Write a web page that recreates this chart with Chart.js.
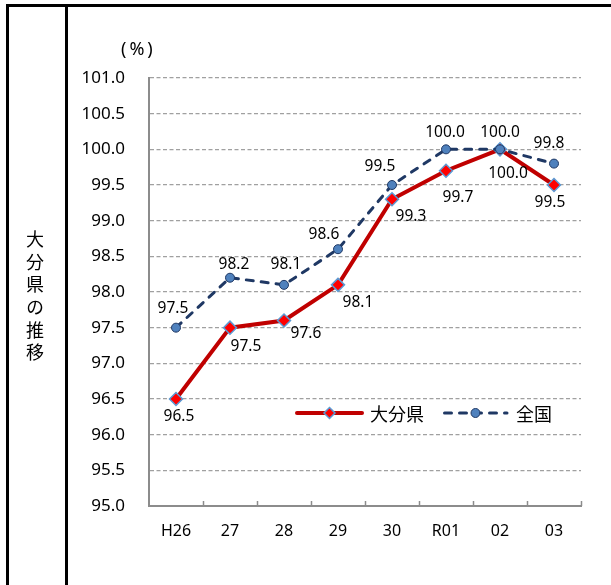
<!DOCTYPE html>
<html>
<head>
<meta charset="utf-8">
<script src="https://cdn.jsdelivr.net/npm/chart.js@4"></script>
<style>
  body { margin: 0; background: #fff; }
  #wrap { position: relative; width: 611px; height: 585px; overflow: hidden; }
  #chart { position: absolute; left: 0; top: 0; }
  .bar { position: absolute; background: #000; }
  #side {
    position: absolute; left: 28px; top: 230px; width: 20px;
    writing-mode: vertical-rl; font: 18px "Noto Sans CJK JP"; letter-spacing: 4.7px; color: #000;
  }
  #unit { position: absolute; left: 121px; top: 36px; font: 18px "Noto Sans"; letter-spacing: 3px; color: #000; white-space: nowrap; }
</style>
</head>
<body>
<div id="wrap">
  <canvas id="chart" width="611" height="585"></canvas>
  <div class="bar" style="left:7px; top:4px; width:604px; height:3px;"></div>
  <div class="bar" style="left:6px; top:4px; width:3px; height:581px;"></div>
  <div class="bar" style="left:65px; top:4px; width:3px; height:581px;"></div>
  <div id="side">大分県の推移</div>
  <div id="unit">(%)</div>
</div>
<script>
const years = ["H26", "27", "28", "29", "30", "R01", "02", "03"];
const oita = [96.5, 97.5, 97.6, 98.1, 99.3, 99.7, 100.0, 99.5];
const zenkoku = [97.5, 98.2, 98.1, 98.6, 99.5, 100.0, 100.0, 99.8];

// label offsets from each point (px)
const oitaOff = [[3, 18], [16, 19], [22, 13], [20, 18], [19, 17], [12, 27], [8, 24], [-4, 18]];
const zenOff = [[-3, -19], [4, -13], [2, -20], [-14, -15], [-12, -18], [-1, -17], [0, -17], [-5, -20]];

const pointLabels = {
  id: "pointLabels",
  afterDatasetsDraw(chart) {
    const c = chart.ctx;
    c.save();
    c.font = "15.5px 'Noto Sans'";
    c.fillStyle = "#000";
    c.textAlign = "center";
    c.textBaseline = "middle";
    chart.data.datasets.forEach((ds, di) => {
      const offs = di === 0 ? oitaOff : zenOff;
      chart.getDatasetMeta(di).data.forEach((pt, i) => {
        c.fillText(ds.data[i].toFixed(1), pt.x + offs[i][0], pt.y + offs[i][1]);
      });
    });
    c.restore();
  }
};

const extras = {
  id: "extras",
  afterDraw(chart) {
    const c = chart.ctx;
    const a = chart.chartArea;
    const n = years.length;
    // small up ticks on the x axis
    c.save();
    c.strokeStyle = "#8c8c8c";
    c.lineWidth = 1.5;
    for (let i = 1; i <= n; i++) {
      const px = Math.round(a.left + i * (a.right - a.left) / n) + 0.5;
      c.beginPath();
      c.moveTo(px, a.bottom);
      c.lineTo(px, a.bottom - 5);
      c.stroke();
    }
    // legend inside plot
    const ly = a.top + 335;
    let lx = a.left + 148;
    c.lineCap = "round";
    c.strokeStyle = "#c00000";
    c.lineWidth = 4;
    c.beginPath(); c.moveTo(lx, ly); c.lineTo(lx + 65, ly); c.stroke();
    const dx = lx + 32.5;
    c.beginPath();
    c.moveTo(dx, ly - 5.5); c.lineTo(dx + 5.5, ly); c.lineTo(dx, ly + 5.5); c.lineTo(dx - 5.5, ly); c.closePath();
    c.fillStyle = "#ff0000"; c.fill();
    c.strokeStyle = "#5b9bd5"; c.lineWidth = 1.5; c.stroke();
    c.font = "18px 'Noto Sans CJK JP'";
    c.fillStyle = "#000";
    c.textBaseline = "middle";
    c.fillText("大分県", lx + 73, ly + 1);
    lx = a.left + 294;
    c.strokeStyle = "#1f3864";
    c.lineWidth = 3;
    c.setLineDash([7, 8]);
    c.beginPath(); c.moveTo(lx + 1.5, ly); c.lineTo(lx + 64, ly); c.stroke();
    c.setLineDash([]);
    c.beginPath(); c.arc(lx + 32.5, ly, 4.5, 0, Math.PI * 2);
    c.fillStyle = "#4f81bd"; c.fill();
    c.strokeStyle = "#1f3864"; c.lineWidth = 1; c.stroke();
    c.fillStyle = "#000";
    c.fillText("全国", lx + 73, ly + 1);
    c.restore();
  }
};

new Chart(document.getElementById("chart").getContext("2d"), {
  type: "line",
  data: {
    labels: years,
    datasets: [
      {
        label: "大分県",
        data: oita,
        order: 1,
        borderColor: "#c00000",
        borderWidth: 4,
        pointStyle: "rectRot",
        pointRadius: 6.5,
        pointBackgroundColor: "#ff0000",
        pointBorderColor: "#5b9bd5",
        pointBorderWidth: 1.5,
        tension: 0,
      },
      {
        label: "全国",
        data: zenkoku,
        order: 0,
        borderColor: "#1f3864",
        borderWidth: 3,
        borderDash: [7, 8],
        borderCapStyle: "round",
        pointStyle: "circle",
        pointRadius: 4.5,
        pointBackgroundColor: "#4f81bd",
        pointBorderColor: "#1f3864",
        pointBorderWidth: 1,
        tension: 0,
      },
    ],
  },
  options: {
    responsive: false,
    animation: false,
    layout: { padding: { left: 70, top: 78, right: 30, bottom: 39 } },
    plugins: { legend: { display: false }, tooltip: { enabled: false } },
    scales: {
      x: {
        offset: true,
        grid: { display: true, drawOnChartArea: false, drawTicks: false },
        border: { display: true, color: "#8c8c8c", width: 2 },
        ticks: { color: "#000", font: { family: "Noto Sans", size: 16 }, padding: 16, maxRotation: 0 },
        afterFit(s) { s.height = 40; },
      },
      y: {
        min: 95,
        max: 101,
        grid: { color: "#a0a0a0", lineWidth: 1.3, drawTicks: false },
        border: { display: true, color: "#8c8c8c", width: 2, dash: [4, 2.5] },
        ticks: {
          stepSize: 0.5,
          color: "#000",
          font: { family: "Noto Sans", size: 17 },
          padding: 24,
          callback: (v) => Number(v).toFixed(1),
        },
        afterFit(s) { s.width = 79; },
      },
    },
  },
  plugins: [pointLabels, extras],
});
</script>
</body>
</html>
